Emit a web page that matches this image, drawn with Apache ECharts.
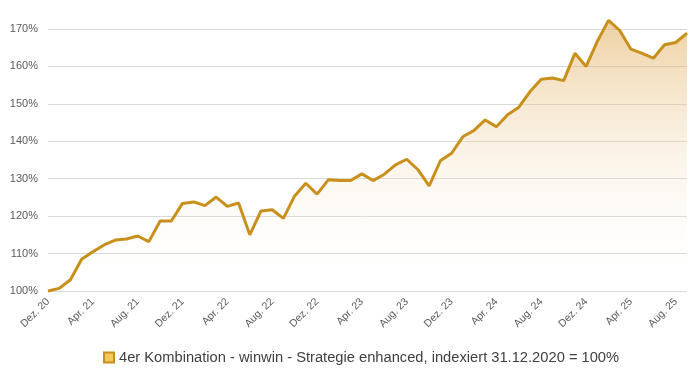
<!DOCTYPE html>
<html><head><meta charset="utf-8">
<script src="https://cdn.jsdelivr.net/npm/echarts@6/dist/echarts.min.js"></script>
<style>html,body{margin:0;padding:0;background:#fff}#c{width:689px;height:369px}</style>
</head><body><div id="c"></div>
<script>
const categories = [
 "Dez. 20",
 "Jan. 21","Feb. 21","Mär. 21","Apr. 21","Mai 21","Jun. 21","Jul. 21","Aug. 21","Sep. 21","Okt. 21","Nov. 21","Dez. 21",
 "Jan. 22","Feb. 22","Mär. 22","Apr. 22","Mai 22","Jun. 22","Jul. 22","Aug. 22","Sep. 22","Okt. 22","Nov. 22","Dez. 22",
 "Jan. 23","Feb. 23","Mär. 23","Apr. 23","Mai 23","Jun. 23","Jul. 23","Aug. 23","Sep. 23","Okt. 23","Nov. 23","Dez. 23",
 "Jan. 24","Feb. 24","Mär. 24","Apr. 24","Mai 24","Jun. 24","Jul. 24","Aug. 24","Sep. 24","Okt. 24","Nov. 24","Dez. 24",
 "Jan. 25","Feb. 25","Mär. 25","Apr. 25","Mai 25","Jun. 25","Jul. 25","Aug. 25","Sep. 25"
];
const seriesName = "4er Kombination - winwin - Strategie enhanced, indexiert 31.12.2020 = 100%";
const values = [
 100.0,
 100.7,103.0,108.5,110.5,112.3,113.6,113.9,114.7,113.2,118.7,118.7,123.4,
 123.8,122.8,125.1,122.6,123.5,115.0,121.4,121.7,119.4,125.4,128.8,125.9,
 129.7,129.5,129.5,131.3,129.5,131.2,133.7,135.2,132.4,128.1,134.8,136.8,
 141.2,142.9,145.7,143.9,147.1,149.1,153.3,156.6,156.9,156.2,163.5,160.0,
 166.7,172.3,169.6,164.6,163.5,162.2,165.8,166.4,168.9
];
const yMin = 100, yMax = 170, yStep = 10;

const chart = echarts.init(document.getElementById('c'), null, {renderer:'canvas'});
chart.setOption({
  animation:false,
  grid:{left:48,right:2,top:29,bottom:78},
  legend:{
    top:345,left:98,
    icon:'rect',itemWidth:10,itemHeight:10,itemGap:4,
    textStyle:{fontSize:14.7,color:'#404040',fontFamily:'Liberation Sans, Arial, sans-serif'},
    data:[{name:seriesName,itemStyle:{color:'#F2C75C',borderColor:'#C8901A',borderWidth:2}}]
  },
  xAxis:{
    type:'category',data:categories,boundaryGap:false,
    axisLine:{show:false},axisTick:{show:false},
    axisLabel:{interval:3,rotate:45,fontSize:10.5,color:'#595959',margin:9,fontFamily:'Liberation Sans, Arial, sans-serif'}
  },
  yAxis:{
    type:'value',min:yMin,max:yMax,interval:yStep,
    axisLine:{show:false},axisTick:{show:false},
    splitLine:{lineStyle:{color:'#D9D9D9',width:1}},
    axisLabel:{formatter:'{value}%',fontSize:11,color:'#595959',margin:10,fontFamily:'Liberation Sans, Arial, sans-serif'}
  },
  series:[{
    name:seriesName,type:'line',data:values,symbol:'none',clip:false,
    lineStyle:{color:'#C8901A',width:3},
    itemStyle:{color:'#C8901A'},
    areaStyle:{color:new echarts.graphic.LinearGradient(0,0,0,1,[
      {offset:0,color:'rgba(224,172,88,0.8)'},
      {offset:1,color:'rgba(255,255,255,0)'}
    ])}
  }]
});
</script></body></html>
